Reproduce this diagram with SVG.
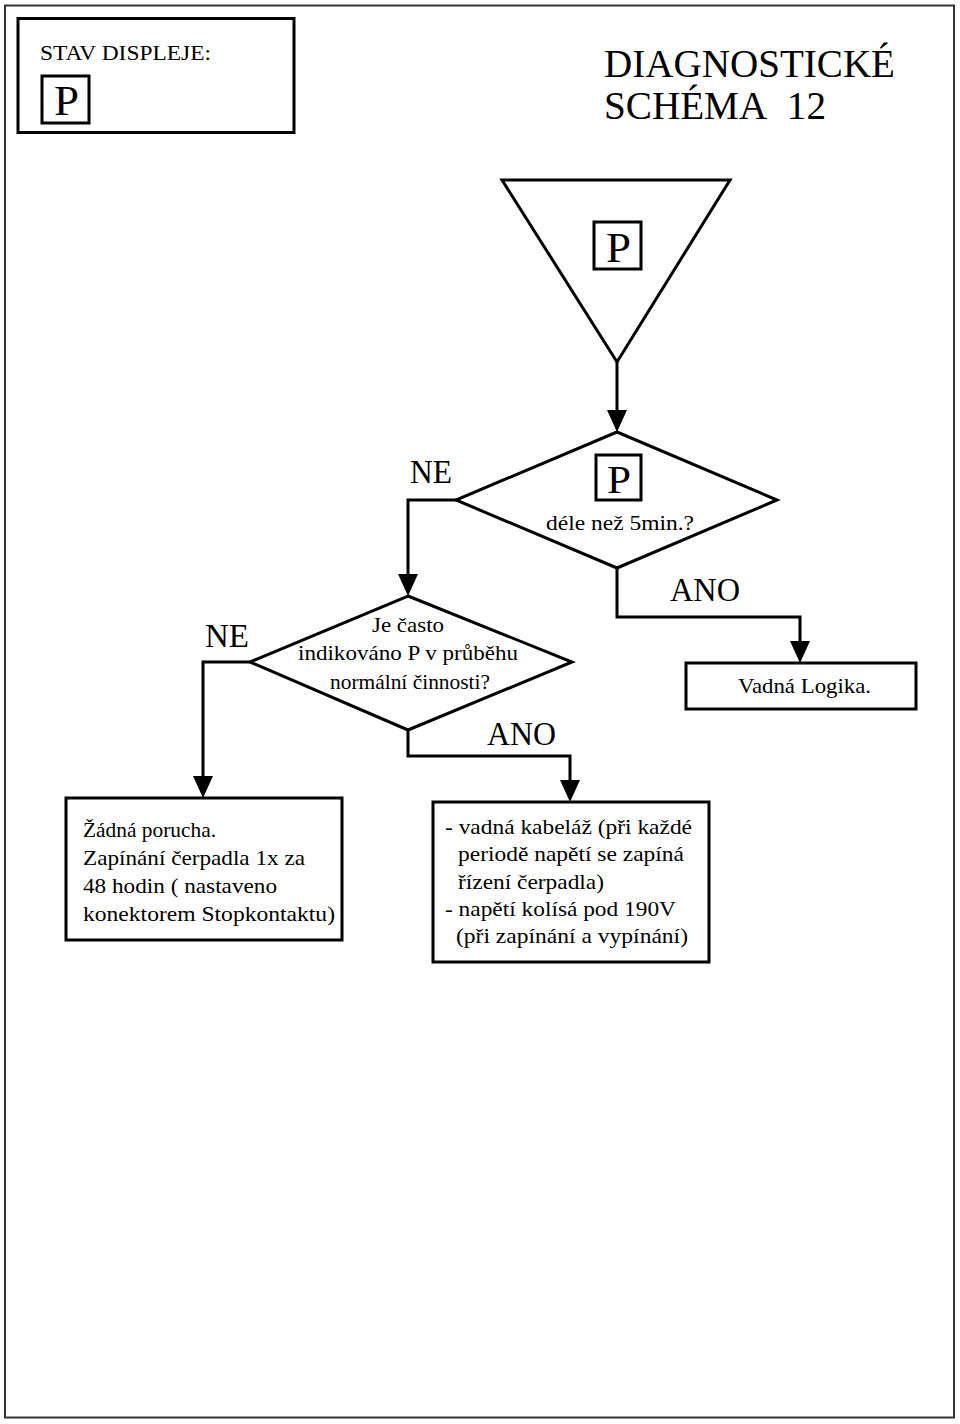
<svg xmlns="http://www.w3.org/2000/svg" width="960" height="1424" viewBox="0 0 960 1424">
<style>
text{font-family:'Liberation Serif','Times New Roman',Times,serif;fill:#000}
.b{font-size:22px}
.shape{fill:#fff;stroke:#000;stroke-width:3}
.line{fill:none;stroke:#000;stroke-width:3}
</style>
<defs>
<marker id="ah" viewBox="0 0 22 20" refX="18" refY="10" markerWidth="22" markerHeight="20" markerUnits="userSpaceOnUse" orient="auto">
<path d="M0,0 L22,10 L0,20 z" fill="#000"/>
</marker>
</defs>
<rect width="960" height="1424" fill="#fff"/>
<rect x="5" y="5.5" width="949" height="1412" fill="none" stroke="#333" stroke-width="2"/>

<g id="header">
<rect class="shape" x="18" y="18.5" width="276" height="114"/>
<text x="40" y="60" font-size="22" textLength="171" lengthAdjust="spacingAndGlyphs">STAV DISPLEJE:</text>
<rect class="shape" x="42" y="76" width="47" height="47"/>
<text x="54" y="115" font-size="42" textLength="25" lengthAdjust="spacingAndGlyphs">P</text>
</g>

<g id="title">
<text x="604" y="77" font-size="40" textLength="291" lengthAdjust="spacingAndGlyphs">DIAGNOSTICKÉ</text>
<text x="604" y="119" font-size="40" textLength="222" lengthAdjust="spacingAndGlyphs">SCHÉMA&#160; 12</text>
</g>

<g id="start">
<polygon class="shape" points="502,180 730,180 617,362"/>
<rect class="shape" x="594" y="222" width="47" height="47"/>
<text x="606" y="262" font-size="42" textLength="25" lengthAdjust="spacingAndGlyphs">P</text>
</g>

<g id="decision1">
<polygon class="shape" points="617,432 777,500 617,568 456,500"/>
<rect class="shape" x="596" y="455" width="45" height="45"/>
<text x="607" y="493" font-size="40" textLength="24" lengthAdjust="spacingAndGlyphs">P</text>
<text class="b" x="546" y="530" textLength="148" lengthAdjust="spacingAndGlyphs">déle než 5min.?</text>
</g>

<g id="decision2">
<polygon class="shape" points="408,596 572,662 408,730 250,662"/>
<text class="b" x="372" y="632" textLength="72" lengthAdjust="spacingAndGlyphs">Je často</text>
<text class="b" x="298" y="660" textLength="220" lengthAdjust="spacingAndGlyphs">indikováno P v průběhu</text>
<text class="b" x="330" y="689" textLength="160" lengthAdjust="spacingAndGlyphs">normální činnosti?</text>
</g>

<g id="logic">
<rect class="shape" x="686" y="663" width="230" height="46"/>
<text class="b" x="738" y="693" textLength="133" lengthAdjust="spacingAndGlyphs">Vadná Logika.</text>
</g>

<g id="nofault">
<rect class="shape" x="66" y="798" width="276" height="142"/>
<text class="b" x="83" y="837" textLength="133" lengthAdjust="spacingAndGlyphs">Žádná porucha.</text>
<text class="b" x="83" y="865" textLength="222" lengthAdjust="spacingAndGlyphs">Zapínání čerpadla 1x za</text>
<text class="b" x="83" y="893" textLength="194" lengthAdjust="spacingAndGlyphs">48 hodin ( nastaveno</text>
<text class="b" x="83" y="921" textLength="252" lengthAdjust="spacingAndGlyphs">konektorem Stopkontaktu)</text>
</g>

<g id="causes">
<rect class="shape" x="433" y="802" width="276" height="160"/>
<text class="b" x="445" y="834" textLength="247" lengthAdjust="spacingAndGlyphs">- vadná kabeláž (při každé</text>
<text class="b" x="458" y="861" textLength="226" lengthAdjust="spacingAndGlyphs">periodě napětí se zapíná</text>
<text class="b" x="458" y="889" textLength="146" lengthAdjust="spacingAndGlyphs">řízení čerpadla)</text>
<text class="b" x="445" y="916" textLength="231" lengthAdjust="spacingAndGlyphs">- napětí kolísá pod 190V</text>
<text class="b" x="456" y="943" textLength="232" lengthAdjust="spacingAndGlyphs">(při zapínání a vypínání)</text>
</g>

<g id="connectors">
<path class="line" d="M617,362 V428" marker-end="url(#ah)"/>
<path class="line" d="M456,500 H408 V592" marker-end="url(#ah)"/>
<path class="line" d="M617,568 V617 H800 V659" marker-end="url(#ah)"/>
<path class="line" d="M250,662 H203 V794" marker-end="url(#ah)"/>
<path class="line" d="M408,730 V756 H570 V798" marker-end="url(#ah)"/>
<text x="410" y="483" font-size="34" textLength="42" lengthAdjust="spacingAndGlyphs">NE</text>
<text x="205" y="647" font-size="34" textLength="44" lengthAdjust="spacingAndGlyphs">NE</text>
<text x="670" y="601" font-size="34" textLength="70" lengthAdjust="spacingAndGlyphs">ANO</text>
<text x="487" y="745" font-size="34" textLength="69" lengthAdjust="spacingAndGlyphs">ANO</text>
</g>
</svg>
